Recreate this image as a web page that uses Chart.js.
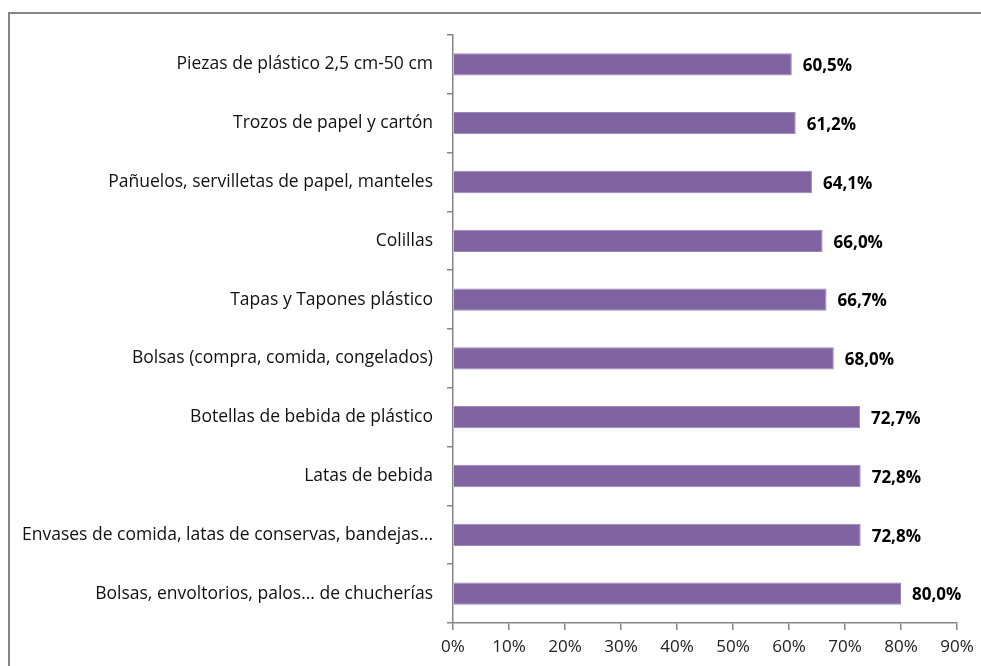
<!DOCTYPE html>
<html>
<head>
<meta charset="utf-8">
<script src="https://cdn.jsdelivr.net/npm/chart.js@4/dist/chart.umd.min.js"></script>
<style>
  html, body { margin: 0; padding: 0; background: #fff; overflow: hidden; }
  #barChart { display: block; }
</style>
</head>
<body>
<canvas id="barChart" width="981" height="666"></canvas>
<script>
const categories = [
    "Piezas de plástico 2,5 cm-50 cm",
    "Trozos de papel y cartón",
    "Pañuelos, servilletas de papel, manteles",
    "Colillas",
    "Tapas y Tapones plástico",
    "Bolsas (compra, comida, congelados)",
    "Botellas de bebida de plástico",
    "Latas de bebida",
    "Envases de comida, latas de conservas, bandejas...",
    "Bolsas, envoltorios, palos... de chucherías",
];
const percentages = [60.5, 61.2, 64.1, 66.0, 66.7, 68.0, 72.7, 72.8, 72.8, 80.0];
const xTicks = [0, 10, 20, 30, 40, 50, 60, 70, 80, 90];

const FONT = "'Open Sans', Lato, sans-serif";
const axisGray = "#868686";

// outer frame around the chart
const framePlugin = {
    id: "frame",
    beforeDraw(chart) {
        const ctx = chart.ctx;
        ctx.save();
        ctx.strokeStyle = axisGray;
        ctx.lineWidth = 2;
        ctx.beginPath();
        ctx.moveTo(9, 680);
        ctx.lineTo(9, 13);
        ctx.lineTo(990, 13);
        ctx.stroke();
        ctx.restore();
    },
};

// value labels at the end of each bar
const valueLabels = {
    id: "valueLabels",
    afterDatasetsDraw(chart) {
        const ctx = chart.ctx;
        const meta = chart.getDatasetMeta(0);
        ctx.save();
        ctx.font = "bold 17px " + FONT;
        ctx.fillStyle = "#000";
        ctx.textBaseline = "middle";
        ctx.textAlign = "left";
        meta.data.forEach((bar, i) => {
            const txt = percentages[i].toFixed(1).replace(".", ",") + "%";
            ctx.fillText(txt, bar.x + 11, bar.y + 2);
        });
        ctx.restore();
    },
};

new Chart(document.getElementById("barChart"), {
    type: "bar",
    data: {
        labels: categories,
        datasets: [
            {
                data: percentages,
                backgroundColor: "#8064A2",
                borderColor: "#9A86B8",
                borderWidth: 1,
                borderSkipped: "left",
                categoryPercentage: 1,
                barPercentage: 0.38,
            },
        ],
    },
    options: {
        indexAxis: "y",
        responsive: false,
        animation: false,
        devicePixelRatio: 1,
        layout: { padding: { top: 35, right: 24, left: 0, bottom: 0 } },
        plugins: {
            legend: { display: false },
            tooltip: { enabled: false },
        },
        scales: {
            x: {
                min: 0,
                max: 90,
                afterBuildTicks: (s) => { s.ticks = xTicks.map((v) => ({ value: v })); },
                afterFit: (s) => { s.height = 43; },
                border: { color: axisGray, width: 1.5 },
                grid: {
                    drawOnChartArea: false,
                    tickLength: 7,
                    color: axisGray,
                    lineWidth: 1.5,
                },
                ticks: {
                    callback: (v) => v + "%",
                    color: "#222",
                    font: { family: FONT, size: 17 },
                    padding: 7,
                    maxRotation: 0,
                },
            },
            y: {
                afterFit: (s) => { s.width = 453; },
                border: { color: axisGray, width: 1.5 },
                grid: {
                    drawOnChartArea: false,
                    offset: true,
                    tickLength: 6,
                    color: axisGray,
                    lineWidth: 1.5,
                },
                ticks: {
                    color: "#111",
                    font: { family: FONT, size: 17.5 },
                    padding: 14,
                    autoSkip: false,
                },
            },
        },
    },
    plugins: [framePlugin, valueLabels],
});
</script>
</body>
</html>
